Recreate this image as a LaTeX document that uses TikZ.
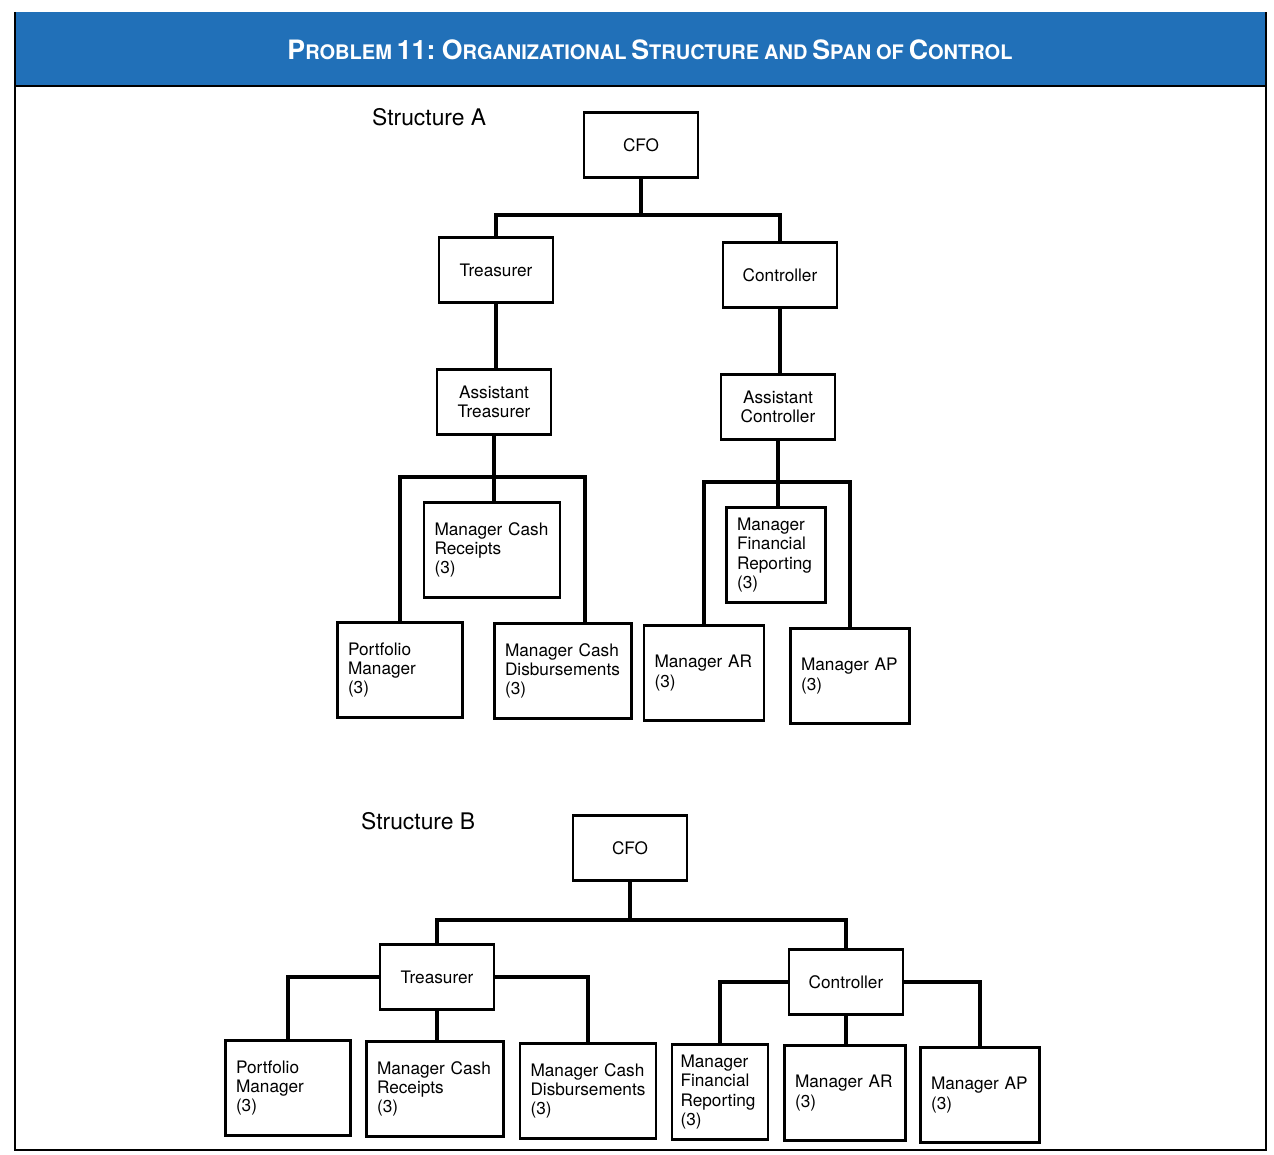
\documentclass[tikz,border=0pt]{standalone}
\usepackage{fontspec}
\setmainfont{TeX Gyre Heros}
\definecolor{headblue}{RGB}{33,112,184}
\newcommand{\hcap}[2]{{\fontsize{15.2}{16}\selectfont #1}{\fontsize{11.4}{12}\selectfont #2}}
\tikzset{
  unit/.style={draw, line width=1.3pt, align=left, inner xsep=6pt,
    font=\fontsize{9.8}{11}\selectfont, minimum height=1.9cm},
  boss/.style={draw, line width=1.3pt, align=center, minimum width=2.28cm,
    minimum height=1.3cm, font=\fontsize{9.8}{11}\selectfont},
  link/.style={line width=1.8pt},
  heading/.style={font=\fontsize{13}{15}\selectfont, anchor=west}
}
\begin{document}
\begin{tikzpicture}[x=0.02cm, y=-0.02cm]
    \useasboundingbox (0,0) rectangle (1274,1155);
    % frame and title band
    \fill[headblue] (15,12) rectangle (1266,86);
    \draw[line width=1pt] (15,86)--(1266,86);
    \draw[line width=0.8pt] (15,12)--(15,1150)--(1266,1150)--(1266,12);
    \node[text=white, font=\bfseries] (title) at (650,50) {\hcap{P}{ROBLEM} {\fontsize{15.2}{16}\selectfont 11:} \hcap{O}{RGANIZATIONAL} \hcap{S}{TRUCTURE} \hcap{}{AND} \hcap{S}{PAN} \hcap{}{OF} \hcap{C}{ONTROL}};

    % Structure A
    \node[heading] (la) at (366,117) {Structure A};
    \node[boss] (cfoA) at (641,145) {CFO};
    \node[boss] (treA) at (496,270) {Treasurer};
    \node[boss] (conA) at (780,275) {Controller};
    \node[boss] (atrA) at (494,402) {Assistant\\Treasurer};
    \node[boss] (acoA) at (778,407) {Assistant\\Controller};
    \node[unit, text width=2.3cm] (mcrA) at (492,550) {Manager Cash\\Receipts\\(3)};
    \node[unit, text width=1.56cm] (mfrA) at (776,555) {Manager\\Financial\\Reporting\\(3)};
    \node[unit, text width=2.08cm] (pmA) at (400,670) {Portfolio\\Manager\\(3)};
    \node[unit, text width=2.32cm] (mcdA) at (563,671) {Manager Cash\\Disbursements\\(3)};
    \node[unit, text width=1.98cm] (marA) at (704,673) {Manager AR\\(3)};
    \node[unit, text width=1.96cm] (mapA) at (850,676) {Manager AP\\(3)};
    \draw[link] (cfoA.south)--(cfoA.south|-0,215) coordinate (barA);
    \draw[link] (treA.north)--(treA.north|-barA)--(conA.north|-barA)--(conA.north);
    \draw[link] (treA.south)--(treA.south|-atrA.north);
    \draw[link] (conA.south)--(conA.south|-acoA.north);
    \draw[link] (atrA.south)--(atrA.south|-mcrA.north);
    \draw[link] (pmA.north)--(pmA.north|-0,477)--([xshift=0.44cm]mcdA.north|-0,477)--([xshift=0.44cm]mcdA.north);
    \draw[link] (acoA.south)--(acoA.south|-mfrA.north);
    \draw[link] (marA.north)--(marA.north|-0,482)--(mapA.north|-0,482)--(mapA.north);

    % Structure B
    \node[heading] (lb) at (355,821) {Structure B};
    \node[boss] (cfoB) at (630,848) {CFO};
    \node[boss] (treB) at (437,977) {Treasurer};
    \node[boss] (conB) at (846,982) {Controller};
    \node[unit, text width=2.08cm] (pmB) at (288,1088) {Portfolio\\Manager\\(3)};
    \node[unit, text width=2.32cm] (mcrB) at (435,1089) {Manager Cash\\Receipts\\(3)};
    \node[unit, text width=2.3cm] (mcdB) at (588,1091) {Manager Cash\\Disbursements\\(3)};
    \node[unit, text width=1.58cm, inner xsep=5pt] (mfrB) at (720,1092) {Manager\\Financial\\Reporting\\(3)};
    \node[unit, text width=2.0cm] (marB) at (845,1093) {Manager AR\\(3)};
    \node[unit, text width=1.96cm] (mapB) at (980,1095) {Manager AP\\(3)};
    \draw[link] (cfoB.south)--(cfoB.south|-0,920) coordinate (barB);
    \draw[link] (treB.north)--(treB.north|-barB)--(conB.north|-barB)--(conB.north);
    \draw[link] (treB.west)--(pmB.north|-treB.west)--(pmB.north);
    \draw[link] (treB.east)--(mcdB.north|-treB.east)--(mcdB.north);
    \draw[link] (treB.south)--(treB.south|-mcrB.north);
    \draw[link] (conB.west)--(mfrB.north|-conB.west)--(mfrB.north);
    \draw[link] (conB.east)--(mapB.north|-conB.east)--(mapB.north);
    \draw[link] (conB.south)--(conB.south|-marB.north);
\end{tikzpicture}
\end{document}
